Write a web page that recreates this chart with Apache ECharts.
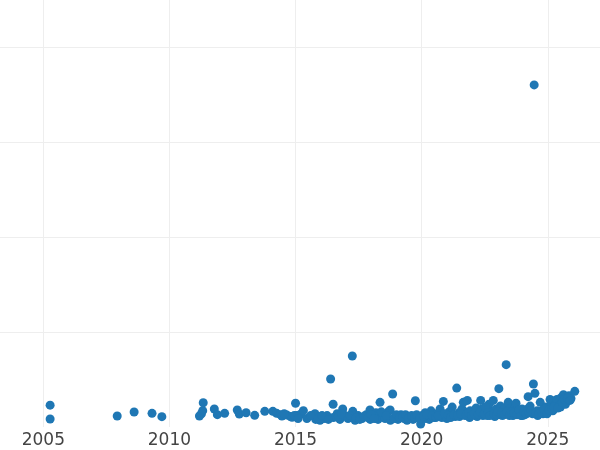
<!DOCTYPE html>
<html>
<head>
<meta charset="utf-8">
<script src="https://cdn.jsdelivr.net/npm/echarts@6/dist/echarts.min.js"></script>
<style>
html,body{margin:0;padding:0;background:#fff;}
#chart{width:600px;height:450px;}
</style>
</head>
<body>
<div id="chart"></div>
<script>
// x tick labels (years) and y gridline values
const xTicks = [2005, 2010, 2015, 2020, 2025];
const yTicks = [0, 100, 200, 300, 400];

// [year, value] pairs
const points = [
  [2005.27, 23], [2005.27, 8.4], [2007.93, 11.6], [2008.60, 15.8], [2009.31, 14.4], [2009.70, 10.9],
  [2011.19, 11.6], [2011.27, 14], [2011.32, 17.2], [2011.34, 25.6], [2011.78, 19], [2011.90, 13],
  [2012.19, 14.4], [2012.69, 17.9], [2012.77, 13.7], [2013.04, 15], [2013.38, 12.3], [2013.78, 16.5],
  [2014.10, 16.5], [2014.25, 14.4], [2014.40, 13], [2014.46, 11.6], [2014.65, 12.6], [2014.80, 11],
  [2014.86, 10.2], [2015.00, 25], [2015.05, 12], [2015.20, 13.5], [2015.31, 17.2], [2015.45, 9],
  [2015.76, 10.9], [2015.77, 14], [2015.80, 8], [2015.97, 7], [2015.99, 11], [2016.13, 9],
  [2016.25, 12], [2016.39, 50.6], [2016.49, 24], [2016.50, 10], [2016.65, 14], [2016.76, 8],
  [2016.87, 19], [2016.96, 12], [2017.08, 9], [2017.25, 74.8], [2017.27, 16.5], [2017.36, 7],
  [2017.48, 12], [2017.64, 9], [2017.80, 13], [2017.95, 18], [2017.96, 8], [2018.07, 11],
  [2018.19, 15], [2018.27, 8], [2018.35, 26], [2018.43, 12], [2018.55, 9], [2018.67, 16],
  [2018.75, 18], [2018.76, 7], [2018.85, 34.8], [2018.95, 11], [2019.06, 8], [2019.18, 13],
  [2019.30, 9], [2019.42, 7], [2019.54, 11], [2019.66, 8], [2019.75, 27.7], [2019.86, 10],
  [2019.96, 3.2], [2020.02, 12], [2020.13, 9], [2020.14, 15], [2020.25, 11], [2020.30, 8],
  [2020.37, 17], [2020.49, 10], [2020.50, 13], [2020.61, 14], [2020.73, 19], [2020.80, 10],
  [2020.86, 27], [2020.97, 12], [2021.00, 9], [2021.09, 16], [2021.20, 14], [2021.21, 21],
  [2021.33, 11], [2021.39, 41], [2021.48, 15], [2021.50, 11], [2021.60, 19], [2021.65, 26],
  [2021.70, 16], [2021.72, 12], [2021.81, 28], [2021.90, 10], [2021.92, 17], [2022.04, 13],
  [2022.10, 17], [2022.16, 20], [2022.20, 11], [2022.28, 15], [2022.34, 28], [2022.40, 19],
  [2022.43, 12], [2022.55, 18], [2022.60, 12], [2022.67, 24], [2022.75, 14], [2022.80, 16],
  [2022.84, 28], [2022.90, 11], [2022.95, 19], [2023.06, 40.4], [2023.11, 13], [2023.12, 22],
  [2023.20, 12], [2023.23, 17], [2023.30, 20], [2023.35, 65.7], [2023.43, 26], [2023.44, 14],
  [2023.51, 20], [2023.60, 13], [2023.62, 12], [2023.70, 21], [2023.74, 25], [2023.80, 16],
  [2023.90, 14], [2023.98, 19], [2024.00, 12], [2024.10, 13], [2024.20, 19], [2024.22, 32],
  [2024.30, 22], [2024.40, 14], [2024.43, 45.3], [2024.46, 360.5], [2024.49, 35.5], [2024.58, 17],
  [2024.60, 12], [2024.70, 26], [2024.80, 18], [2024.81, 14], [2024.90, 15], [2024.93, 21],
  [2025.01, 16], [2025.09, 29], [2025.10, 21], [2025.20, 17], [2025.21, 18], [2025.30, 24],
  [2025.36, 29], [2025.45, 23], [2025.50, 21], [2025.53, 31], [2025.62, 34], [2025.70, 24],
  [2025.73, 27], [2025.84, 33], [2025.92, 30], [2026.07, 37.6],
  [2014.55, 14], [2014.95, 12], [2015.10, 9], [2015.60, 12], [2015.90, 9], [2016.05, 12],
  [2016.30, 8], [2016.70, 11], [2016.82, 14], [2017.15, 12], [2017.40, 10], [2017.55, 8],
  [2017.70, 11], [2017.88, 10], [2018.00, 13], [2018.12, 9], [2018.40, 16], [2018.60, 12],
  [2018.90, 9], [2019.00, 13], [2019.12, 10], [2019.25, 11], [2019.36, 13], [2019.48, 9],
  [2019.60, 12], [2019.72, 10], [2019.80, 13], [2019.92, 9], [2020.08, 11], [2020.20, 13],
  [2020.42, 12], [2020.56, 10], [2020.66, 12], [2020.90, 14], [2021.05, 12], [2021.15, 10],
  [2021.27, 13], [2021.42, 12], [2021.55, 14], [2021.77, 13], [2021.86, 15], [2021.98, 12],
  [2022.08, 14], [2022.24, 13], [2022.32, 16], [2022.48, 14], [2022.52, 21], [2022.64, 15],
  [2022.70, 12], [2022.86, 14], [2022.98, 13], [2023.02, 16], [2023.16, 15], [2023.27, 13],
  [2023.38, 16], [2023.48, 12], [2023.56, 16], [2023.66, 15], [2023.78, 13], [2023.86, 18],
  [2023.94, 12], [2024.05, 16], [2024.14, 14], [2024.26, 15], [2024.34, 17], [2024.52, 15],
  [2024.65, 14], [2024.75, 16], [2024.86, 19], [2024.97, 14], [2025.05, 18], [2025.15, 20],
  [2025.25, 21], [2025.40, 20], [2025.58, 26], [2025.66, 29], [2025.78, 30], [2025.88, 28]
];

const chart = echarts.init(document.getElementById('chart'), null, {renderer: 'canvas'});
chart.setOption({
  animation: false,
  backgroundColor: '#ffffff',
  grid: {left: 0, right: 0, top: 0, bottom: 23, containLabel: false},
  xAxis: {
    type: 'value',
    min: 2003.283,
    max: 2027.07,
    axisLine: {show: false},
    axisTick: {show: false},
    splitLine: {show: false},
    axisLabel: {
      customValues: xTicks,
      fontSize: 17,
      color: '#444444',
      fontFamily: 'DejaVu Sans',
      margin: 5,
      formatter: v => String(v)
    }
  },
  yAxis: {
    type: 'value',
    min: yTicks[0],
    max: 450,
    interval: 100,
    axisLine: {show: false},
    axisTick: {show: false},
    axisLabel: {show: false},
    splitLine: {show: true, showMinLine: false, showMaxLine: false, lineStyle: {color: '#eeeeee', width: 1}}
  },
  series: [{
    type: 'scatter',
    z: 2,
    symbol: 'circle',
    symbolSize: 9,
    itemStyle: {color: '#1f77b4', opacity: 1},
    data: points,
    markLine: {
      z: 0,
      silent: true,
      symbol: ['none', 'none'],
      label: {show: false},
      lineStyle: {color: '#eeeeee', type: 'solid', width: 1},
      emphasis: {disabled: true},
      data: xTicks.map(t => ({xAxis: t}))
    }
  }]
});
</script>
</body>
</html>
